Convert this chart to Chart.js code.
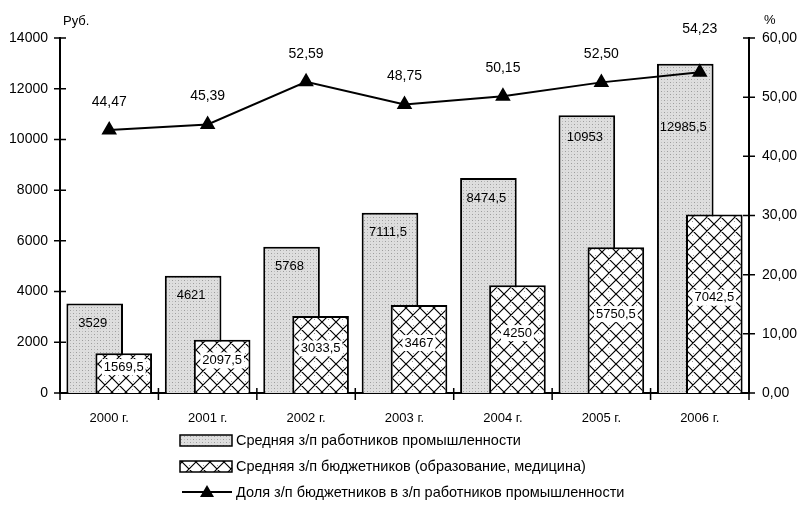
<!DOCTYPE html>
<html>
<head>
<meta charset="utf-8">
<script src="https://cdn.jsdelivr.net/npm/chart.js@4.4.1/dist/chart.umd.min.js"></script>
<style>
    html, body { margin: 0; padding: 0; background: #fff; }
</style>
</head>
<body>
<canvas id="chart" width="799" height="513"></canvas>
<script>
    "use strict";

    // chart data
    var years = ['2000 г.', '2001 г.', '2002 г.', '2003 г.', '2004 г.', '2005 г.', '2006 г.'];
    var industryWage = [3529, 4621, 5768, 7111.5, 8474.5, 10953, 12985.5];
    var budgetWage = [1569.5, 2097.5, 3033.5, 3467, 4250, 5750.5, 7042.5];
    var budgetShare = [44.47, 45.39, 52.59, 48.75, 50.15, 52.50, 54.23];
    var seriesNames = [
        'Средняя з/п работников промышленности',
        'Средняя з/п бюджетников (образование, медицина)',
        'Доля з/п бюджетников в з/п работников промышленности'
    ];

    var REGULAR = "'Liberation Sans', Arial, sans-serif";

    function commaNum(v) {
        return String(v).replace('.', ',');
    }

    // light stippled grey for the industry bars
    function stipplePattern(ctx) {
        var c = document.createElement('canvas');
        c.width = 6; c.height = 6;
        var p = c.getContext('2d');
        p.fillStyle = '#dedede';
        p.fillRect(0, 0, 6, 6);
        p.fillStyle = '#9c9c9c';
        p.fillRect(1, 1, 1, 1);
        p.fillRect(4, 4, 1, 1);
        p.fillStyle = '#bdbdbd';
        p.fillRect(4, 1, 1, 1);
        p.fillRect(1, 4, 1, 1);
        return ctx.createPattern(c, 'repeat');
    }

    // cross hatch for the budget bars
    function hatchPattern(ctx) {
        var s = 14;
        var c = document.createElement('canvas');
        c.width = s; c.height = s;
        var p = c.getContext('2d');
        p.fillStyle = '#fff';
        p.fillRect(0, 0, s, s);
        p.strokeStyle = '#000';
        p.lineWidth = 1.2;
        p.beginPath();
        [-s, 0, s].forEach(function (o) {
            p.moveTo(o, 0); p.lineTo(o + s, s);
            p.moveTo(o, s); p.lineTo(o + s, 0);
        });
        p.stroke();
        p.fillStyle = '#999';
        p.fillRect(7, 3, 1, 1);
        p.fillRect(6, 11, 1, 1);
        return ctx.createPattern(c, 'repeat');
    }

    function drawTriangle(ctx, x, y, r) {
        ctx.beginPath();
        ctx.moveTo(x, y - r);
        ctx.lineTo(x + r, y + r * 0.7);
        ctx.lineTo(x - r, y + r * 0.7);
        ctx.closePath();
        ctx.fill();
    }

    var canvas = document.getElementById('chart');
    var ctx = canvas.getContext('2d');
    var stipple = stipplePattern(ctx);
    var hatch = hatchPattern(ctx);

    // budget bars sit over the industry bars, line over both
    var drawOrder = {
        id: 'drawOrder',
        beforeDatasetDraw(chart, args) {
            if (args.index === 1) return false;
        },
        afterDatasetDraw(chart, args) {
            if (args.index === 0) chart.getDatasetMeta(1).controller.draw();
        }
    };

    var axisMarks = {
        id: 'axisMarks',
        afterDatasetsDraw(chart) {
            var c = chart.ctx, a = chart.chartArea;
            var y = chart.scales.y, y2 = chart.scales.y2;
            c.save();
            c.strokeStyle = '#000';
            c.lineWidth = 1.5;
            c.beginPath();
            y.ticks.forEach(function (t) {
                var py = y.getPixelForValue(t.value);
                c.moveTo(a.left - 6, py); c.lineTo(a.left + 6, py);
            });
            y2.ticks.forEach(function (t) {
                var py = y2.getPixelForValue(t.value);
                c.moveTo(a.right - 6, py); c.lineTo(a.right + 6, py);
            });
            for (var i = 0; i <= years.length; i++) {
                var px = a.left + (a.right - a.left) * i / years.length;
                c.moveTo(px, a.bottom - 5); c.lineTo(px, a.bottom + 7);
            }
            c.stroke();
            c.restore();
        }
    };

    var valueLabels = {
        id: 'valueLabels',
        afterDatasetsDraw(chart) {
            var c = chart.ctx;
            var points = chart.getDatasetMeta(2).data;
            var industryBars = chart.getDatasetMeta(0).data;
            c.save();
            c.textAlign = 'center';
            c.textBaseline = 'middle';
            c.font = '13px ' + REGULAR;
            c.fillStyle = '#000';
            industryBars.forEach(function (bar, i) {
                var ty = Math.max(bar.y + 20, points[i].y + 55);
                c.fillText(commaNum(industryWage[i]), bar.x - 2, ty);
            });
            chart.getDatasetMeta(1).data.forEach(function (bar, i) {
                var text = commaNum(budgetWage[i]);
                var ty = (bar.y + bar.base) / 2 - 6;
                var w = c.measureText(text).width;
                c.fillStyle = '#fff';
                c.fillRect(bar.x - w / 2 - 2, ty - 8, w + 4, 16);
                c.fillStyle = '#000';
                c.fillText(text, bar.x, ty);
            });
            c.font = '14px ' + REGULAR;
            points.forEach(function (pt, i) {
                // keep the label clear of a bar top that rises above the point
                var ty = Math.min(pt.y - 28, industryBars[i].y - 35);
                c.fillText(budgetShare[i].toFixed(2).replace('.', ','), pt.x, ty);
            });
            c.restore();
        }
    };

    var sideLegend = {
        id: 'sideLegend',
        afterDraw(chart) {
            var c = chart.ctx;
            var a = chart.chartArea;
            c.save();
            c.fillStyle = '#000';
            c.font = '13px ' + REGULAR;
            c.textBaseline = 'middle';
            c.textAlign = 'left';
            c.fillText('Руб.', a.left + 3, 21);
            c.fillText('%', a.right + 15, 20);

            var bx = 180, bw = 52, rows = [440, 466, 492];
            c.font = '14.5px ' + REGULAR;
            [stipple, hatch].forEach(function (fill, i) {
                c.fillStyle = fill;
                c.fillRect(bx, rows[i] - 5, bw, 11);
                c.strokeStyle = '#000';
                c.lineWidth = 1.5;
                c.strokeRect(bx, rows[i] - 5, bw, 11);
            });
            c.strokeStyle = '#000';
            c.lineWidth = 2;
            c.beginPath();
            c.moveTo(bx + 2, rows[2]); c.lineTo(bx + bw, rows[2]);
            c.stroke();
            c.fillStyle = '#000';
            drawTriangle(c, bx + 27, rows[2], 7);
            seriesNames.forEach(function (name, i) {
                c.fillText(name, bx + bw + 4, rows[i] + 1);
            });
            c.restore();
        }
    };

    var chart = new Chart(ctx, {
        type: 'bar',
        data: {
            labels: years,
            datasets: [
                {
                    label: seriesNames[0],
                    data: industryWage,
                    yAxisID: 'y',
                    backgroundColor: stipple,
                    borderColor: '#000',
                    borderWidth: 2,
                    categoryPercentage: 0.59,
                    barPercentage: 1.95
                },
                {
                    label: seriesNames[1],
                    data: budgetWage,
                    yAxisID: 'y',
                    backgroundColor: hatch,
                    borderColor: '#000',
                    borderWidth: 2,
                    categoryPercentage: 0.59,
                    barPercentage: 1.95
                },
                {
                    type: 'line',
                    label: seriesNames[2],
                    data: budgetShare,
                    yAxisID: 'y2',
                    order: -1,
                    borderColor: '#000',
                    borderWidth: 2,
                    tension: 0,
                    pointStyle: 'triangle',
                    pointRadius: 7,
                    pointBackgroundColor: '#000',
                    pointBorderColor: '#000'
                }
            ]
        },
        options: {
            responsive: false,
            animation: false,
            layout: { padding: { top: 38, left: 0, right: 0, bottom: 0 } },
            plugins: {
                legend: { display: false },
                tooltip: { enabled: false }
            },
            scales: {
                x: {
                    offset: true,
                    grid: { display: false },
                    border: { display: true, color: '#000', width: 2 },
                    ticks: { color: '#000', padding: 10, font: { family: REGULAR, size: 13 } },
                    afterFit(scale) { scale.height = 120; }
                },
                y: {
                    position: 'left',
                    min: 0,
                    max: 14000,
                    grid: { display: false, drawTicks: false },
                    border: { display: true, color: '#000', width: 2 },
                    ticks: {
                        stepSize: 2000,
                        color: '#000',
                        padding: 12,
                        font: { family: REGULAR, size: 14 },
                        callback: function (v) { return String(v); }
                    },
                    afterFit(scale) { scale.width = 60; }
                },
                y2: {
                    position: 'right',
                    min: 0,
                    max: 60,
                    grid: { display: false, drawTicks: false },
                    border: { display: true, color: '#000', width: 2 },
                    ticks: {
                        stepSize: 10,
                        color: '#000',
                        padding: 13,
                        font: { family: REGULAR, size: 14 },
                        callback: function (v) { return v.toFixed(2).replace('.', ','); }
                    },
                    afterFit(scale) { scale.width = 50; }
                }
            }
        },
        plugins: [drawOrder, axisMarks, valueLabels, sideLegend]
    });
</script>
</body>
</html>
